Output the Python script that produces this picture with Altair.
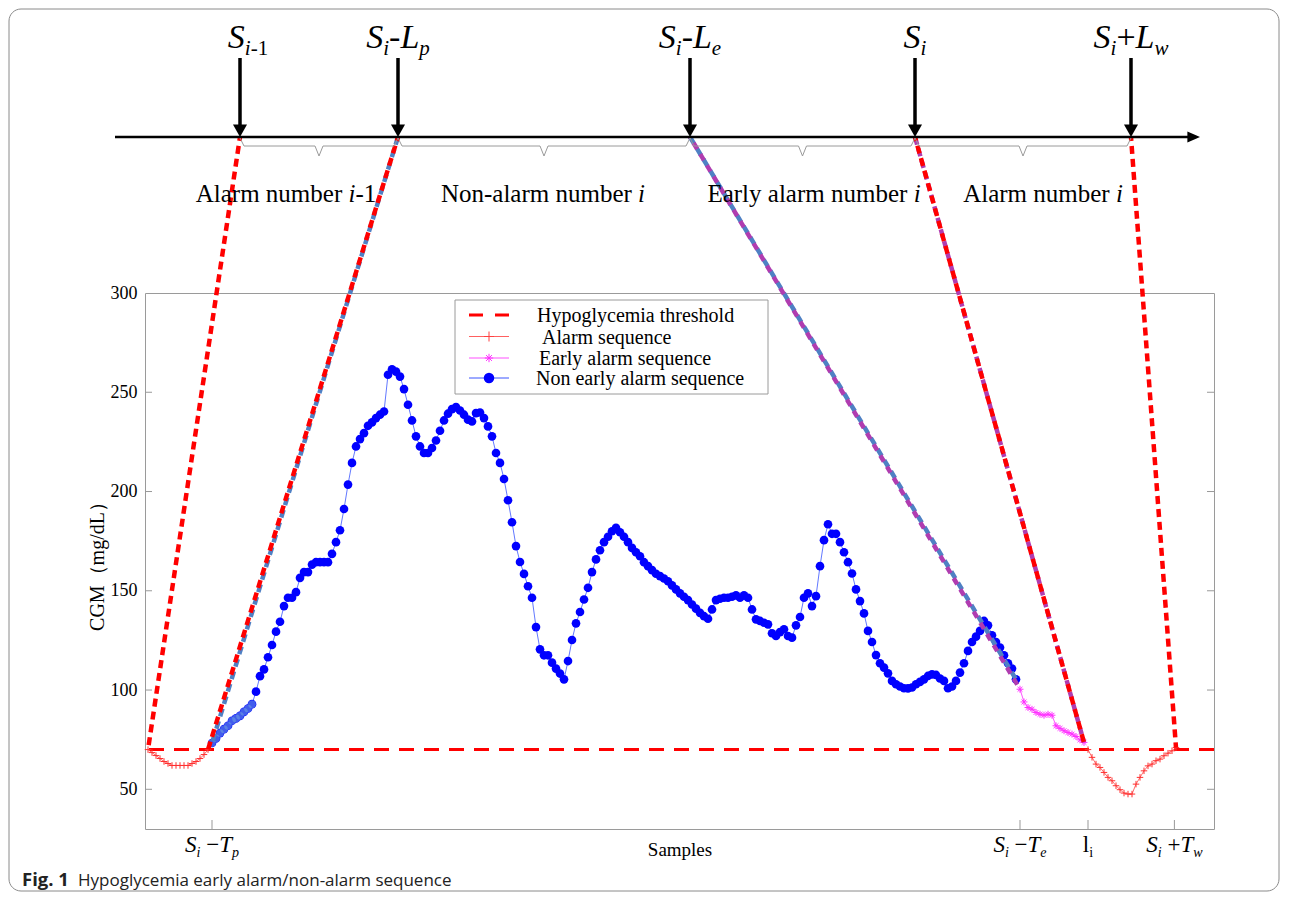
import altair as alt
import pandas as pd

# ---------------- data ----------------
THRESHOLD = 70
Y_TICKS = [50, 100, 150, 200, 250, 300]

# CGM values, one per sample, in time order
alarm_prev = [70, 68.5, 67, 65.5, 64, 63, 62, 62, 62, 62, 62, 63, 64, 65.5, 67.5, 70]
non_early = [
    73.3, 75.6, 78.3, 80.3, 82, 84.5, 85.7, 87, 89, 90.7,
    92.9, 99.2, 107, 110.4, 116.5, 122.7, 129.4, 134.4, 142.3, 146.5,
    146.5, 149.3, 156.5, 159.4, 159.4, 163.2, 164.4, 164.4, 164.4, 164.4,
    168.6, 174.5, 180.5, 191.2, 203.5, 214.4, 222.7, 226.4, 229.4, 233.1,
    234.8, 237, 238.7, 240.3, 258.8, 261.6, 260.4, 257.9, 251.6, 243.7,
    235.8, 227.8, 222.7, 219.4, 219.4, 221.9, 225.7, 230.6, 235.8, 239.2,
    241.5, 242.5, 240.8, 238.7, 236.2, 235.3, 239.5, 239.8, 237, 232.8,
    227.8, 219.4, 214.4, 206.3, 195.6, 184.5, 172.5, 164.5, 158.5, 152.3,
    146.5, 131.7, 120.5, 117.5, 117.5, 113.8, 110.8, 108.3, 105.4, 114.6,
    125.2, 133.6, 139.3, 145.6, 151.5, 159.4, 165.8, 170.4, 174.5, 177.2,
    180, 181.7, 179.5, 177.2, 174.5, 171.6, 169.4, 167.4, 164.4, 162.4,
    160.4, 158.6, 157.4, 156.2, 154.8, 152.7, 150.7, 148.7, 147, 145.3,
    143.1, 141, 138.9, 137.2, 135.9, 140.6, 145.3, 146, 146.5, 146.5,
    147, 147.7, 146.5, 147.7, 146.5, 140.6, 135.6, 134.8, 133.9, 133.1,
    128.6, 127.2, 129.2, 130.6, 127.2, 126.4, 132.6, 136.8, 146.5, 148.7,
    142.3, 147.3, 162.4, 175.5, 183.5, 178.7, 178.7, 174.5, 169.4, 164.4,
    158.7, 150.7, 144.8, 138.6, 129.8, 124.2, 117.6, 113.5, 111.3, 108.4,
    104.6, 102.9, 101.8, 100.9, 100.8, 101.3, 102.9, 104.1, 105.4, 107.1,
    107.9, 107.6, 105.8, 104.6, 100.9, 101.8, 104.6, 108.8, 113.5, 119.7,
    124.2, 126.9, 129.8, 134.8, 132.6, 127.6, 124.2, 121.4, 117.5, 113.5,
    110.8, 105.4,
]
early = [100.4, 94, 91.2, 90.3, 88.7, 87.8, 87.3, 87.8, 87.3, 82, 80.7, 79.5, 78.6,
         77.8, 76.6, 74.9, 73.6]
alarm_cur = [70, 66.1, 62.7, 61, 58.5, 56, 54.3, 51.8, 49.8, 48.1, 47.6, 47.6, 52.6,
             56, 59.3, 61.8, 62.7, 64.4, 65.2, 66.9, 68.2, 69.4, 71]

# time-line events (sample index) and labels
event_pos = [23, 62.5, 135.5, 191.75, 245.75]
region_centers = [34.5, 98.75, 166.5, 223.75]
x_tick_pos = [16, 218, 235, 256.6]
legend_labels = ["Hypoglycemia threshold", "Alarm sequence", "Early alarm sequence",
                 "Non early alarm sequence"]
caption_bold = "Fig. 1"
caption_text = "Hypoglycemia early alarm/non-alarm sequence"
x_title = "Samples"
y_title = "CGM（mg/dL）"

# ---------------- geometry / style ----------------
W, H = 1069, 536
X_MIN, X_MAX = -0.75, 266.5
Y_MIN, Y_MAX = 30, 300
PXX = W / (X_MAX - X_MIN)
PXY = H / (Y_MAX - Y_MIN)
TL_PX = -156                      # time line, pixels from plot top
TL = Y_MIN + (H - TL_PX) / PXY    # same in data units
SERIF = "Liberation Serif"
SANS = "Open Sans"
RED = "#ff0000"
STEEL = "#4f80c4"
PURPLE = "#b03cb0"

xsc = alt.Scale(domain=[X_MIN, X_MAX], nice=False, zero=False)
ysc = alt.Scale(domain=[Y_MIN, Y_MAX], nice=False, zero=False)


def series(vals, start):
    return pd.DataFrame({"idx": list(range(start, start + len(vals))), "v": vals})


s0 = 0
s1 = s0 + len(alarm_prev)
s2 = s1 + len(non_early)
s3 = s2 + len(early)
df_prev = series(alarm_prev, s0)
df_blue = series(non_early, s1)
df_early = series(early, s2)
df_cur = series(alarm_cur, s3)

PLUS = "M-1,0L1,0M0,-1L0,1"
STAR = "M-1,0L1,0M0,-1L0,1M-0.7,-0.7L0.7,0.7M-0.7,0.7L0.7,-0.7"
ARROW_DOWN = "M-1,-1.8L1,-1.8L0,0Z"
ARROW_RIGHT = "M0,0L-1.8,-0.8L-1.8,0.8Z"

xaxis = alt.Axis(title=x_title, labels=False, ticks=False, domain=False, grid=False,
                 titleFont=SERIF, titleFontSize=19, titleFontWeight="normal",
                 titleColor="black", titlePadding=11)
yaxis = alt.Axis(values=Y_TICKS, ticks=False, domain=False, grid=False,
                 labelFont=SERIF, labelFontSize=18, labelColor="black", labelPadding=8,
                 title=y_title, titleFont=SERIF, titleFontSize=20, titleFontWeight="normal",
                 titleColor="black", titlePadding=3)


def XQ(f):
    return alt.X(f, type="quantitative", scale=xsc, axis=xaxis)


def YQ(f):
    return alt.Y(f, type="quantitative", scale=ysc, axis=yaxis)


layers = []

# figure frame
layers.append(alt.Chart(pd.DataFrame({"a": [0]})).mark_rect(
    fillOpacity=0, stroke="#8a8a8a", strokeWidth=1, cornerRadius=12).encode(
    x=alt.value(-136), x2=alt.value(1134), y=alt.value(-284), y2=alt.value(598)))

# threshold
layers.append(alt.Chart(pd.DataFrame({"t": [THRESHOLD]})).mark_rule(
    color=RED, strokeWidth=3, strokeDash=[15, 10]).encode(y=YQ("t")))

# series
layers.append(alt.Chart(df_blue).mark_line(color="#3a55ff", strokeWidth=0.8).encode(
    x=XQ("idx"), y=YQ("v")))
layers.append(alt.Chart(df_blue).mark_point(shape="circle", filled=True, size=75,
                                            color="#0000ff", opacity=1).encode(
    x=XQ("idx"), y=YQ("v")))
layers.append(alt.Chart(df_blue.head(11)).mark_point(shape="circle", filled=True, size=60,
                                                     color="#6c9be0", opacity=0.6).encode(
    x=XQ("idx"), y=YQ("v")))
for dfa in (df_prev, df_cur):
    layers.append(alt.Chart(dfa).mark_line(color="#ff5a5a", strokeWidth=0.9).encode(
        x=XQ("idx"), y=YQ("v")))
    layers.append(alt.Chart(dfa).mark_point(shape=PLUS, size=42, color="#ff3030",
                                            strokeWidth=1, opacity=1).encode(
        x=XQ("idx"), y=YQ("v")))
layers.append(alt.Chart(df_early).mark_line(color="#ff40ff", strokeWidth=0.9).encode(
    x=XQ("idx"), y=YQ("v")))
layers.append(alt.Chart(df_early).mark_point(shape=STAR, size=48, color="#ff30ff",
                                             strokeWidth=1, opacity=1).encode(
    x=XQ("idx"), y=YQ("v")))

# connectors from the time line to the series ends
def conn(pos, idx, val):
    return {"x": pos, "y": TL, "x2": idx, "y2": val}


base_conn = pd.DataFrame([
    conn(event_pos[1], s1, non_early[0]),
    conn(event_pos[2], s2 - 1, non_early[-1]),
])
purple_base = pd.DataFrame([conn(event_pos[3], s3 - 1, early[-1])])
purple_top = pd.DataFrame([conn(event_pos[2], s2, early[0])])
red_top = pd.DataFrame([
    conn(event_pos[0], s0, alarm_prev[0]),
    conn(event_pos[1], s1 - 1, alarm_prev[-1]),
    conn(event_pos[3], s3 - 1, early[-1]),
    conn(event_pos[4], s3 + len(alarm_cur) - 1, alarm_cur[-1]),
])


def rule_layer(df, **kw):
    return alt.Chart(df).mark_rule(strokeCap="butt", **kw).encode(
        x=XQ("x"), y=YQ("y"), x2="x2:Q", y2="y2:Q")


layers.append(rule_layer(base_conn, color=STEEL, strokeWidth=4.5, strokeDash=[8, 5]))
layers.append(rule_layer(purple_base, color=PURPLE, strokeWidth=4.5, strokeDash=[8, 4]))
layers.append(rule_layer(purple_top, color=PURPLE, strokeWidth=4.5, strokeDash=[7, 6],
                         strokeDashOffset=6))
layers.append(rule_layer(red_top, color=RED, strokeWidth=4.5, strokeDash=[8, 5],
                         strokeDashOffset=4))

# manual ticks (inward)
df_yt = pd.DataFrame({"t": Y_TICKS[:-1]})
layers.append(alt.Chart(df_yt).mark_rule(color="#999999").encode(
    y=YQ("t"), x=alt.value(0), x2=alt.value(7)))
layers.append(alt.Chart(df_yt).mark_rule(color="#999999").encode(
    y=YQ("t"), x=alt.value(W - 7), x2=alt.value(W)))
layers.append(alt.Chart(pd.DataFrame({"t": x_tick_pos})).mark_rule(color="#999999").encode(
    x=XQ("t"), y=alt.value(H), y2=alt.value(H - 9)))

# time line with arrows
layers.append(alt.Chart(pd.DataFrame({"x": [-8.25], "x2": [261.0]})).mark_rule(
    color="black", strokeWidth=2.5).encode(x=XQ("x"), x2="x2:Q", y=alt.value(TL_PX)))
layers.append(alt.Chart(pd.DataFrame({"x": [263.0]})).mark_point(
    shape=ARROW_RIGHT, filled=True, size=196, color="black", opacity=1).encode(
    x=XQ("x"), y=alt.value(TL_PX)))
df_ev = pd.DataFrame({"x": event_pos})
layers.append(alt.Chart(df_ev).mark_rule(color="black", strokeWidth=3.5).encode(
    x=XQ("x"), y=alt.value(-235), y2=alt.value(-166)))
layers.append(alt.Chart(df_ev).mark_point(
    shape=ARROW_DOWN, filled=True, size=196, color="black", opacity=1).encode(
    x=XQ("x"), y=alt.value(TL_PX)))

# braces under the time line
seg = []
for a, b in zip(event_pos[:-1], event_pos[1:]):
    m = (a + b) / 2
    pts = [(a, -155), (a + 1, -147), (m - 1, -147), (m, -137), (m + 1, -147),
           (b - 1, -147), (b, -155)]
    for (x1, y1), (x2, y2) in zip(pts[:-1], pts[1:]):
        seg.append({"x": x1, "x2": x2, "y": y1, "y2": y2})
layers.append(alt.Chart(pd.DataFrame(seg)).mark_rule(color="#9a9a9a", strokeWidth=1).encode(
    x=XQ("x"), x2="x2:Q", y=alt.Y("y:Q", scale=None, axis=None), y2="y2:Q"))

# ---------------- rich text (pieces with italic / subscripts) ----------------
W_REG = {" ": 250, "A": 722, "E": 611, "N": 722, "a": 444, "b": 500, "e": 444, "l": 278,
         "m": 778, "n": 500, "o": 500, "r": 333, "u": 500, "y": 500, "-": 333, "1": 500,
         "+": 564, "\u2212": 564, "i": 278}
W_IT = {"S": 500, "i": 278, "L": 556, "T": 556, "p": 500, "e": 444, "w": 667, "l": 278}


def pw(text, it, fs):
    tbl = W_IT if it else W_REG
    return sum(tbl.get(c, 500) for c in text) * fs / 1000.0


pieces = []


def place(parts, center, base_y, shift_px=0.0):
    total = sum(pw(t, it, fs) for t, it, fs, dy in parts)
    off = -total / 2 + shift_px
    for t, it, fs, dy in parts:
        if t.strip():
            pieces.append({"text": t, "x": center + off / PXX, "y": base_y + dy,
                           "fs": fs, "it": it})
        off += pw(t, it, fs)


BIG, SUB, SH = 34, 21, 7
top_parts = [
    [("S", True, BIG, 0), ("i", True, SUB, SH), ("-1", False, SUB, SH)],
    [("S", True, BIG, 0), ("i", True, SUB, SH), ("-", False, BIG, 0), ("L", True, BIG, 0), ("p", True, SUB, SH)],
    [("S", True, BIG, 0), ("i", True, SUB, SH), ("-", False, BIG, 0), ("L", True, BIG, 0), ("e", True, SUB, SH)],
    [("S", True, BIG, 0), ("i", True, SUB, SH)],
    [("S", True, BIG, 0), ("i", True, SUB, SH), ("+", False, BIG, 0), ("L", True, BIG, 0), ("w", True, SUB, SH)],
]
top_shift = [8, 0, 0, 0, 0]
for parts, c, sh in zip(top_parts, event_pos, top_shift):
    place(parts, c, -245, sh)

RF = 25
region_parts = [
    [("Alarm number ", False, RF, 0), ("i", True, RF, 0), ("-1", False, RF, 0)],
    [("Non-alarm number ", False, RF, 0), ("i", True, RF, 0)],
    [("Early alarm number ", False, RF, 0), ("i", True, RF, 0)],
    [("Alarm number ", False, RF, 0), ("i", True, RF, 0)],
]
for parts, c in zip(region_parts, region_centers):
    place(parts, c, -91)

TB, TS, TSH = 23, 14, 5
tick_parts = [
    [("S", True, TB, 0), ("i", True, TS, TSH), (" ", False, TB, 0), ("\u2212", False, TB, 0), ("T", True, TB, 0), ("p", True, TS, TSH)],
    [("S", True, TB, 0), ("i", True, TS, TSH), (" ", False, TB, 0), ("\u2212", False, TB, 0), ("T", True, TB, 0), ("e", True, TS, TSH)],
    [("l", False, TB, 0), ("i", False, TS, TSH)],
    [("S", True, TB, 0), ("i", True, TS, TSH), (" ", False, TB, 0), ("+", False, TB, 0), ("T", True, TB, 0), ("w", True, TS, TSH)],
]
for parts, c in zip(tick_parts, x_tick_pos):
    place(parts, c, 559)

df_txt = pd.DataFrame(pieces)
for italic in (True, False):
    sub = df_txt[df_txt["it"] == italic]
    layers.append(alt.Chart(sub).mark_text(
        align="left", baseline="alphabetic", font=SERIF,
        fontStyle="italic" if italic else "normal", color="black").encode(
        x=XQ("x"), y=alt.Y("y:Q", scale=None, axis=None),
        size=alt.Size("fs:Q", scale=None, legend=None), text="text:N"))

# ---------------- legend (drawn by hand) ----------------
LX0, LX1, LY0, LY1 = 310, 623, 7, 101
layers.append(alt.Chart(pd.DataFrame({"a": [0]})).mark_rect(
    fill="white", stroke="#9a9a9a", strokeWidth=1).encode(
    x=alt.value(LX0), x2=alt.value(LX1), y=alt.value(LY0), y2=alt.value(LY1)))
row_y = [22, 43.5, 65, 85]
text_dx = [392, 397, 394, 391]
sample_x0, sample_x1, sample_xc = 324, 364, 344
row_styles = [
    dict(color=RED, strokeWidth=3, strokeDash=[14, 12]),
    dict(color="#ff6060", strokeWidth=1),
    dict(color="#ff50ff", strokeWidth=1),
    dict(color="#3a55ff", strokeWidth=1),
]
one = pd.DataFrame({"a": [0]})
for yv, st in zip(row_y, row_styles):
    layers.append(alt.Chart(one).mark_rule(**st).encode(
        x=alt.value(sample_x0), x2=alt.value(sample_x1), y=alt.value(yv)))
layers.append(alt.Chart(one).mark_point(shape=PLUS, size=100, color="#ff4040",
                                        strokeWidth=1, opacity=1).encode(
    x=alt.value(sample_xc), y=alt.value(row_y[1])))
layers.append(alt.Chart(one).mark_point(shape=STAR, size=70, color="#ff30ff",
                                        strokeWidth=1, opacity=1).encode(
    x=alt.value(sample_xc), y=alt.value(row_y[2])))
layers.append(alt.Chart(one).mark_point(shape="circle", filled=True, size=110,
                                        color="#0000ff", opacity=1).encode(
    x=alt.value(sample_xc), y=alt.value(row_y[3])))
for lab, yv, xv in zip(legend_labels, row_y, text_dx):
    layers.append(alt.Chart(pd.DataFrame({"t": [lab]})).mark_text(
        align="left", baseline="middle", font=SERIF, fontSize=20, color="black").encode(
        x=alt.value(xv), y=alt.value(yv + 1), text="t:N"))

# ---------------- caption ----------------
layers.append(alt.Chart(pd.DataFrame({"t": [caption_bold]})).mark_text(
    align="left", baseline="alphabetic", font=SANS, fontSize=18.5, fontWeight="bold",
    color="#222222").encode(x=alt.value(-123), y=alt.value(593), text="t:N"))
layers.append(alt.Chart(pd.DataFrame({"t": [caption_text]})).mark_text(
    align="left", baseline="alphabetic", font=SANS, fontSize=17, color="#222222").encode(
    x=alt.value(-67), y=alt.value(593), text="t:N"))

chart = alt.layer(*layers).properties(
    width=W, height=H,
    autosize=alt.AutoSizeParams(type="none"),
    padding={"left": 137, "top": 285, "right": 66, "bottom": 64},
    background="white",
).configure_view(stroke="#9a9a9a", strokeWidth=1)

chart.save("out.html", embed_options={"renderer": "svg", "actions": False})
